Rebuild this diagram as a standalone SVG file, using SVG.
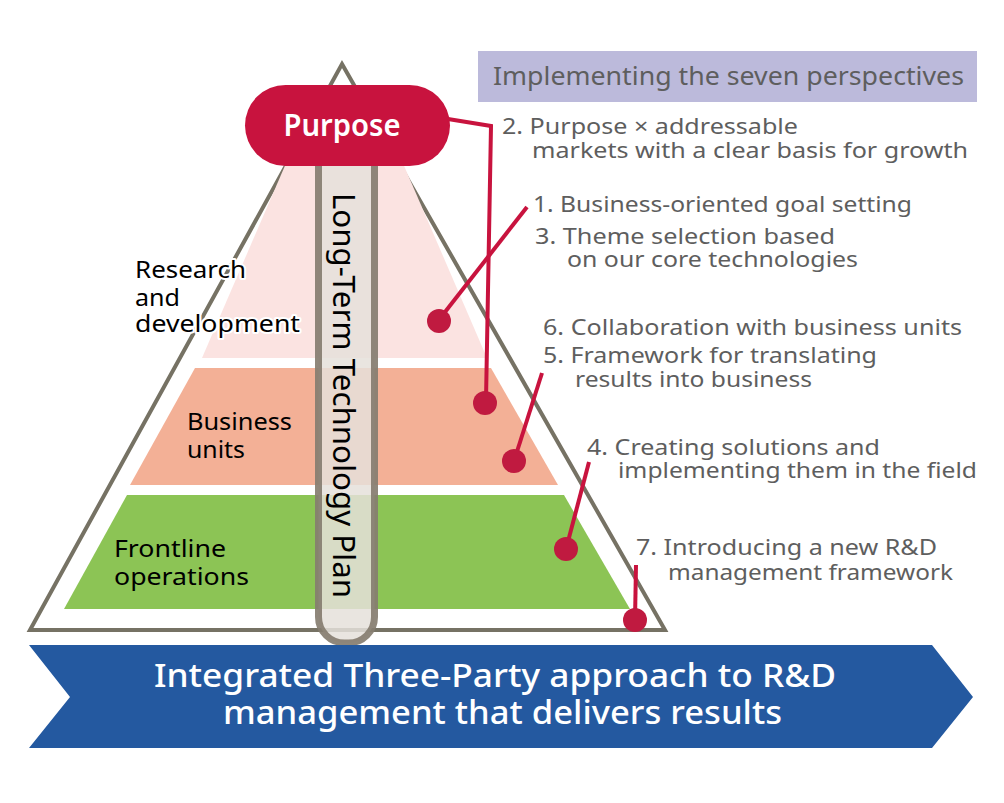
<svg xmlns="http://www.w3.org/2000/svg" width="1004" height="803" viewBox="0 0 1004 803">
<style>
.lbl{font-family:"Noto Sans","Open Sans","Liberation Sans",sans-serif;font-size:22px;fill:#5E5E5E}
.layer{font-family:"Noto Sans","Open Sans","Liberation Sans",sans-serif;font-size:24px;fill:#000}
.halo{stroke:#fff;stroke-width:4;paint-order:stroke;stroke-linejoin:round}
.red{stroke:#C8133E;stroke-width:4;fill:none;stroke-linecap:butt}
.dot{fill:#C01A40}
.ban{font-family:"Noto Sans","Open Sans","Liberation Sans",sans-serif;font-size:32px;font-weight:500;fill:#fff}
</style>
<rect width="1004" height="803" fill="#fff"/>
<g id="pyramid-outline">
<polygon points="342,64 665,630 30,630" fill="#fff" stroke="#767264" stroke-width="4"/>
</g>
<g id="layer-rd">
<polygon points="309,110 380,110 487,358 202,358" fill="#FBE3E1"/>
</g>
<g id="layer-bu">
<polygon points="195,368 491,368 558,485 130,485" fill="#F3B096"/>
</g>
<g id="layer-fl">
<polygon points="127,495 564,495 630,609 64,609" fill="#8CC455"/>
</g>
<g id="labels-layers">
<text class="layer halo" x="135" y="278" textLength="111" lengthAdjust="spacingAndGlyphs">Research</text>
<text class="layer halo" x="135" y="306" textLength="45" lengthAdjust="spacingAndGlyphs">and</text>
<text class="layer halo" x="135" y="332" textLength="165" lengthAdjust="spacingAndGlyphs">development</text>
<text class="layer" x="187" y="430" textLength="105" lengthAdjust="spacingAndGlyphs">Business</text>
<text class="layer" x="187" y="458" textLength="58" lengthAdjust="spacingAndGlyphs">units</text>
<text class="layer" x="114" y="557" textLength="112" lengthAdjust="spacingAndGlyphs">Frontline</text>
<text class="layer" x="114" y="585" textLength="135" lengthAdjust="spacingAndGlyphs">operations</text>
</g>
<g id="plan-bar">
<rect x="318.5" y="140" width="56" height="503" rx="26" fill="#E5E1DB" fill-opacity="0.85" stroke="#857D70" stroke-opacity="0.92" stroke-width="7"/>
<text transform="translate(333,395.5) rotate(90)" text-anchor="middle" font-family="Noto Sans, Open Sans, Liberation Sans, sans-serif" font-size="31" fill="#000" textLength="405" lengthAdjust="spacingAndGlyphs">Long-Term Technology Plan</text>
</g>
<g id="purpose">
<rect x="245" y="85" width="205" height="81" rx="40.5" fill="#C8133E"/>
<text x="342" y="136" text-anchor="middle" font-family="Noto Sans, Open Sans, Liberation Sans, sans-serif" font-size="31" font-weight="600" fill="#fff" textLength="117" lengthAdjust="spacingAndGlyphs">Purpose</text>
</g>
<g id="connectors">
<polyline class="red" points="448,119 491,126 486,400"/>
<line class="red" x1="527" y1="207" x2="438" y2="321"/>
<line class="red" x1="542" y1="373" x2="514" y2="461"/>
<line class="red" x1="589" y1="462" x2="566" y2="549"/>
<line class="red" x1="636" y1="565" x2="635" y2="620"/>
<circle class="dot" cx="439" cy="321" r="12"/>
<circle class="dot" cx="485" cy="403" r="12"/>
<circle class="dot" cx="514" cy="461" r="12"/>
<circle class="dot" cx="566" cy="549" r="12"/>
<circle class="dot" cx="635" cy="620" r="12"/>
</g>
<g id="header">
<rect x="478" y="51" width="499" height="51" fill="#BCBADB"/>
<text x="493" y="85" font-family="Noto Sans, Open Sans, Liberation Sans, sans-serif" font-size="26" fill="#5E5E5E" textLength="471" lengthAdjust="spacingAndGlyphs">Implementing the seven perspectives</text>
</g>
<g id="perspectives">
<text class="lbl" x="502" y="134" textLength="296" lengthAdjust="spacingAndGlyphs">2. Purpose × addressable</text>
<text class="lbl" x="532" y="158" textLength="436" lengthAdjust="spacingAndGlyphs">markets with a clear basis for growth</text>
<text class="lbl" x="533" y="212" textLength="379" lengthAdjust="spacingAndGlyphs">1. Business-oriented goal setting</text>
<text class="lbl" x="535" y="244" textLength="300" lengthAdjust="spacingAndGlyphs">3. Theme selection based</text>
<text class="lbl" x="567" y="267" textLength="291" lengthAdjust="spacingAndGlyphs">on our core technologies</text>
<text class="lbl" x="543" y="335" textLength="419" lengthAdjust="spacingAndGlyphs">6. Collaboration with business units</text>
<text class="lbl" x="543" y="363" textLength="334" lengthAdjust="spacingAndGlyphs">5. Framework for translating</text>
<text class="lbl" x="575" y="387" textLength="237" lengthAdjust="spacingAndGlyphs">results into business</text>
<text class="lbl" x="587" y="455" textLength="293" lengthAdjust="spacingAndGlyphs">4. Creating solutions and</text>
<text class="lbl" x="618" y="478" textLength="359" lengthAdjust="spacingAndGlyphs">implementing them in the field</text>
<text class="lbl" x="636" y="555" textLength="301" lengthAdjust="spacingAndGlyphs">7. Introducing a new R&amp;D</text>
<text class="lbl" x="668" y="580" textLength="285" lengthAdjust="spacingAndGlyphs">management framework</text>
</g>
<g id="banner">
<polygon points="29,645 932,645 973,697 932,748 29,748 70,697" fill="#2459A0"/>
<text class="ban" x="154" y="687" textLength="682" lengthAdjust="spacingAndGlyphs">Integrated Three-Party approach to R&amp;D</text>
<text class="ban" x="223" y="724" textLength="559" lengthAdjust="spacingAndGlyphs">management that delivers results</text>
</g>
</svg>
